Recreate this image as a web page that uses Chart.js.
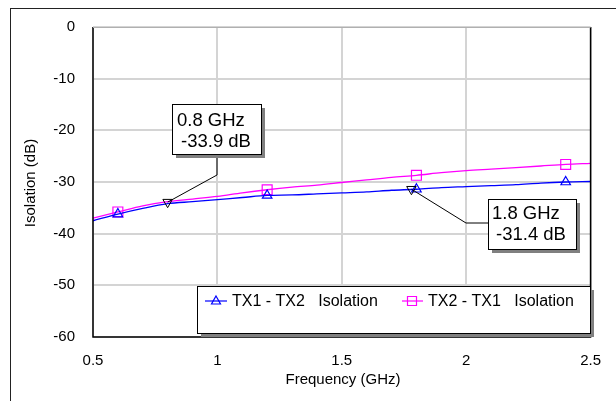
<!DOCTYPE html>
<html>
<head>
<meta charset="utf-8">
<script src="https://cdn.jsdelivr.net/npm/chart.js@4"></script>
<style>
html,body{margin:0;padding:0;background:#fff;}
#wrap{width:616px;height:401px;position:relative;}
</style>
</head>
<body>
<div id="wrap"><canvas id="c" width="616" height="401"></canvas></div>
<script>
// ---- data ----
const freq = [0.5,0.6,0.7,0.8,0.9,1.0,1.1,1.2,1.3,1.4,1.5,1.6,1.7,1.8,1.9,2.0,2.1,2.2,2.3,2.4,2.5];
const tx1tx2 = [-37.5,-36.2,-35.1,-34.2,-33.8,-33.4,-33.0,-32.6,-32.5,-32.3,-32.1,-31.9,-31.6,-31.4,-31.1,-30.9,-30.7,-30.5,-30.2,-30.0,-29.9];
const tx2tx1 = [-37.0,-35.8,-34.6,-33.8,-33.3,-32.8,-32.1,-31.5,-31.0,-30.6,-30.1,-29.6,-29.1,-28.7,-28.2,-27.8,-27.5,-27.2,-26.9,-26.6,-26.4];
const symbolFreq = [0.6,1.2,1.8,2.4];
const markerFreq = [0.8,1.78];
const markerVal = [-33.9,-31.4];
const markerFreqText = ['0.8 GHz','1.8 GHz'];
const markerValText = ['-33.9 dB','-31.4 dB'];
const seriesNames = ['TX1 - TX2   Isolation','TX2 - TX1   Isolation'];
const xTicks = [0.5,1,1.5,2,2.5];
const yTicks = [0,-10,-20,-30,-40,-50,-60];
const xTitle = 'Frequency (GHz)';
const yTitle = 'Isolation (dB)';

const FONT = '"Liberation Sans", Arial, sans-serif';
const isSym = (ctx) => {
  const x = freq[ctx.dataIndex];
  return symbolFreq.some(v => Math.abs(v - x) < 1e-6);
};

const decor = {
  id: 'decor',
  beforeDraw(chart) {
    const c = chart.ctx;
    c.save();
    c.fillStyle = '#fff';
    c.fillRect(0,0,chart.width,chart.height);
    c.strokeStyle = '#222';
    c.lineWidth = 1;
    c.strokeRect(10.5, 8.5, 700, 500);
    c.restore();
  },
  afterDatasetsDraw(chart) {
    const c = chart.ctx;
    const a = chart.chartArea;
    const xs = chart.scales.x, ys = chart.scales.y;
    c.save();
    // plot border
    c.strokeStyle = '#000';
    c.lineWidth = 1.5;
    c.beginPath();
    c.moveTo(a.left, a.top); c.lineTo(a.left, a.bottom); c.lineTo(a.right, a.bottom); c.lineTo(a.right, a.top);
    c.stroke();
    c.strokeStyle = '#b0b0b0';
    c.lineWidth = 1;
    c.beginPath(); c.moveTo(a.left, a.top+0.5); c.lineTo(a.right, a.top+0.5); c.stroke();

    // annotation boxes
    const boxes = [
      {x:172, y:104, w:89, h:50, bend:[[217,175],[217,154]], t1:[177,126], t2:[181,147]},
      {x:488, y:199, w:88, h:50, bend:[[466,223],[488,223]], t1:[492,219], t2:[496,240]}
    ];
    boxes.forEach((b,i) => {
      const px = xs.getPixelForValue(markerFreq[i]);
      const py = ys.getPixelForValue(markerVal[i]);
      c.strokeStyle = '#000'; c.lineWidth = 1;
      c.beginPath();
      c.moveTo(px, py);
      b.bend.forEach(p => c.lineTo(p[0], p[1]));
      c.stroke();
      c.fillStyle = '#808080';
      c.fillRect(b.x+4, b.y+4, b.w, b.h);
      c.fillStyle = '#fff';
      c.fillRect(b.x, b.y, b.w, b.h);
      c.strokeRect(b.x+0.5, b.y+0.5, b.w, b.h);
      c.fillStyle = '#000';
      c.font = '18.5px ' + FONT;
      c.textAlign = 'left'; c.textBaseline = 'alphabetic';
      c.fillText(markerFreqText[i], b.t1[0], b.t1[1]);
      c.fillText(markerValText[i], b.t2[0], b.t2[1]);
    });

    // legend box
    const L = {x:197, y:286, w:393, h:47};
    c.fillStyle = '#808080';
    c.fillRect(L.x+4, L.y+4, L.w, L.h);
    c.fillStyle = '#fff';
    c.fillRect(L.x, L.y, L.w, L.h);
    c.strokeStyle = '#000'; c.lineWidth = 1;
    c.strokeRect(L.x+0.5, L.y+0.5, L.w, L.h);
    const items = [
      {x0:205, x1:227, mx:216, tx:232, color:'#0000ff', shape:'tri'},
      {x0:402, x1:423, mx:412, tx:428, color:'#ff00ff', shape:'sq'}
    ];
    const ly = 301;
    c.font = '16px ' + FONT;
    items.forEach((it,i) => {
      c.strokeStyle = it.color; c.lineWidth = 1.2;
      c.beginPath(); c.moveTo(it.x0, ly); c.lineTo(it.x1, ly); c.stroke();
      c.beginPath();
      if (it.shape === 'tri') {
        c.moveTo(it.mx, ly-5); c.lineTo(it.mx+4.5, ly+3); c.lineTo(it.mx-4.5, ly+3); c.closePath();
      } else {
        c.rect(it.mx-4.5, ly-4.5, 9, 9);
      }
      c.stroke();
      c.fillStyle = '#000';
      c.textAlign = 'left'; c.textBaseline = 'alphabetic';
      c.fillText(seriesNames[i], it.tx, 306);
    });

    // axis titles
    c.fillStyle = '#000';
    c.font = '15px ' + FONT;
    c.textAlign = 'center'; c.textBaseline = 'middle';
    c.fillText(xTitle, 343, 380);
    c.translate(31, 183);
    c.rotate(-Math.PI/2);
    c.fillText(yTitle, 0, 0);
    c.restore();
  }
};

new Chart(document.getElementById('c'), {
  type: 'line',
  data: {
    datasets: [
      {
        label: seriesNames[0],
        data: freq.map((x,i) => ({x, y: tx1tx2[i]})),
        borderColor: '#0000ff', borderWidth: 1.3,
        pointStyle: 'triangle',
        pointRadius: (ctx) => isSym(ctx) ? 5.5 : 0,
        pointBorderColor: '#0000ff', pointBackgroundColor: 'rgba(255,255,255,0)',
        pointBorderWidth: 1.2,
        cubicInterpolationMode: 'monotone', fill: false, order: 2
      },
      {
        label: seriesNames[1],
        data: freq.map((x,i) => ({x, y: tx2tx1[i]})),
        borderColor: '#ff00ff', borderWidth: 1.3,
        pointStyle: 'rect',
        pointRadius: (ctx) => isSym(ctx) ? 7 : 0,
        pointBorderColor: '#ff00ff', pointBackgroundColor: 'rgba(255,255,255,0)',
        pointBorderWidth: 1.2,
        cubicInterpolationMode: 'monotone', fill: false, order: 3
      },
      {
        label: 'markers',
        data: markerFreq.map((x,i) => ({x, y: markerVal[i]})),
        showLine: false,
        pointStyle: 'triangle', rotation: 180,
        pointRadius: 5.5, pointBorderColor: '#000', pointBackgroundColor: 'rgba(255,255,255,0)',
        pointBorderWidth: 1, order: 1
      }
    ]
  },
  options: {
    responsive: false, animation: false, devicePixelRatio: 1,
    layout: { padding: { left: 0, top: 25, right: 23, bottom: 0 } },
    plugins: { legend: { display: false }, tooltip: { enabled: false } },
    scales: {
      x: {
        type: 'linear', min: 0.5, max: 2.5,
        afterBuildTicks: (s) => { s.ticks = xTicks.map(v => ({value: v})); },
        afterFit: (s) => { s.height = 64; },
        grid: { color: '#d4d4d4', lineWidth: 2, drawTicks: false },
        border: { display: false },
        ticks: { color: '#000', font: { family: FONT, size: 15 }, padding: 15, maxRotation: 0,
                 callback: (v) => String(v) }
      },
      y: {
        type: 'linear', min: -60, max: 0,
        afterBuildTicks: (s) => { s.ticks = yTicks.map(v => ({value: v})); },
        afterFit: (s) => { s.width = 93; },
        grid: { color: '#d4d4d4', lineWidth: 2, drawTicks: false },
        border: { display: false },
        ticks: { color: '#000', font: { family: FONT, size: 15 }, padding: 18,
                 callback: (v) => String(v) }
      }
    }
  },
  plugins: [decor]
});
</script>
</body>
</html>
